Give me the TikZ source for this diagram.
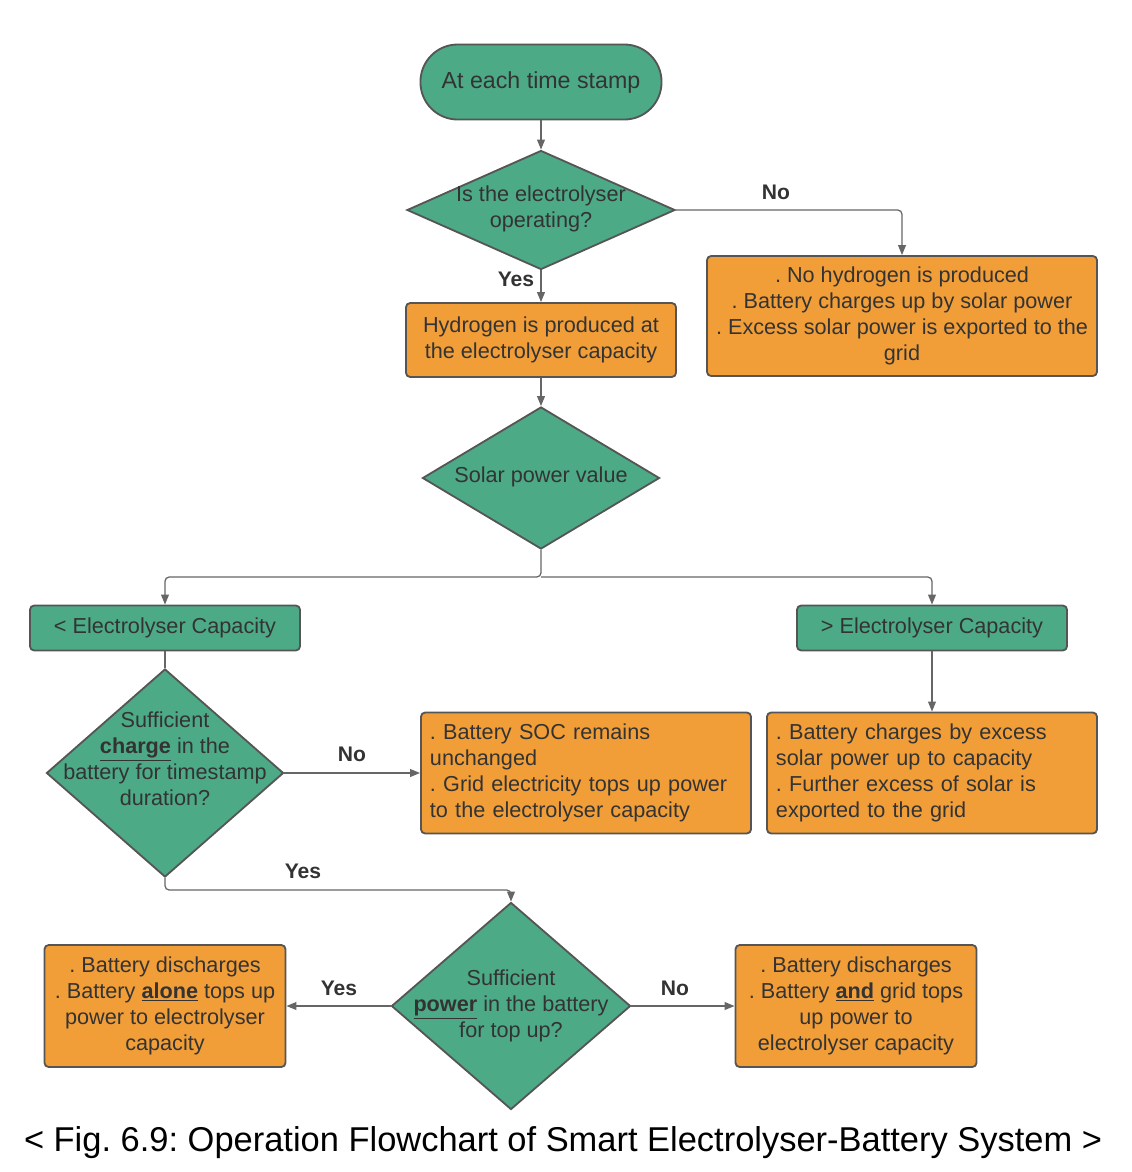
\documentclass[tikz,border=0pt]{standalone}
\usepackage{fontspec}
\setmainfont{Liberation Sans}
\usetikzlibrary{shapes.geometric,arrows.meta,calc}
\frenchspacing

\definecolor{flowgreen}{HTML}{4CAA87}
\definecolor{floworange}{HTML}{F19E38}
\definecolor{edgegray}{HTML}{555555}
\definecolor{linegray}{HTML}{666666}
\definecolor{inkgray}{HTML}{333333}

\begin{document}
\begin{tikzpicture}[x=0.025cm,y=-0.025cm,
        every node/.style={font=\fontsize{15.4}{18.6}\selectfont, text=inkgray},
        terminal/.style={draw=edgegray, line width=1.3pt, fill=flowgreen, rounded corners=0.93cm,
                minimum width=6.025cm, minimum height=1.875cm, font=\fontsize{16.5}{19.8}\selectfont},
        decision/.style={diamond, draw=edgegray, line width=1.3pt, fill=flowgreen, inner sep=0pt},
        greenbox/.style={rectangle, draw=edgegray, line width=1.3pt, fill=flowgreen, rounded corners=3pt,
                minimum width=6.75cm, minimum height=1.125cm},
        actbox/.style={rectangle, draw=edgegray, line width=1.3pt, fill=floworange, rounded corners=3pt,
                align=center, inner sep=2pt},
        link/.style={draw=linegray, line width=0.9pt, rounded corners=3pt},
        flow/.style={link, -{Triangle[length=7pt,width=5.5pt]}},
        answer/.style={font=\bfseries\fontsize{15}{18}\selectfont}
    ]
    \useasboundingbox (0,0) rectangle (1132,1172);

    % top part
    \node (start) at (541,82) [terminal] {At each time stamp};
    \node (q1) at (541,210) [decision, minimum width=6.7cm, minimum height=2.975cm] {};
    \node (q1text) at (541,209) [align=center] {Is the electrolyser\\operating?};
    \node (hyd) at (541,340) [actbox, minimum width=6.75cm, minimum height=1.85cm]
        {Hydrogen is produced at\\the electrolyser capacity};
    \node (nohyd) at (902,316) [actbox, minimum width=9.75cm, minimum height=3cm]
        {. No hydrogen is produced\\. Battery charges up by solar power\\. Excess solar power is exported to the\\grid};
    \node (q2) at (541,478) [decision, minimum width=5.925cm, minimum height=3.55cm] {};
    \node (q2text) at (541,477) {Solar power value};

    % middle part
    \coordinate (split) at (541,577);
    \node (less) at (165,628) [greenbox] {< Electrolyser Capacity};
    \node (more) at (932,628) [greenbox] {> Electrolyser Capacity};
    \node (q3) at (165,773) [decision, minimum width=5.925cm, minimum height=5.2cm] {};
    \node (q3text) at (165,759) [align=center]
        {Sufficient\\\underline{\textbf{charge}} in the\\battery for timestamp\\duration?};
    \node (soc) at (586,773) [actbox, align=left, text width=7.8cm, inner xsep=0.225cm, minimum height=3.025cm]
        {. Battery SOC remains\\unchanged\\. Grid electricity tops up power\\to the electrolyser capacity};
    \node (excess) at (932,773) [actbox, align=left, text width=7.8cm, inner xsep=0.225cm, minimum height=3.025cm]
        {. Battery charges by excess\\solar power up to capacity\\. Further excess of solar is\\exported to the grid};

    % bottom part
    \coordinate (yesturn) at (511,890);
    \node (q4) at (511,1006) [decision, minimum width=5.975cm, minimum height=5.175cm] {};
    \node (q4text) at (511,1006) [align=center]
        {Sufficient\\\underline{\textbf{power}} in the battery\\for top up?};
    \node (alone) at (165,1006) [actbox, minimum width=6.025cm, minimum height=3.05cm]
        {. Battery discharges\\. Battery \underline{\textbf{alone}} tops up\\power to electrolyser\\capacity};
    \node (andgrid) at (856,1006) [actbox, minimum width=6.025cm, minimum height=3.05cm]
        {. Battery discharges\\. Battery \underline{\textbf{and}} grid tops\\up power to\\electrolyser capacity};

    % connectors
    \draw [flow] (start) -- (q1);
    \draw [flow] (q1.east) -| (nohyd.north);
    \draw [flow] (q1.south) -- (hyd.north);
    \draw [flow] (hyd.south) -- (q2.north);
    \draw [flow] (q2.south) -- (split) -| (less.north);
    \draw [flow] (split) -| (more.north);
    \draw [link] (less.south) -- (q3.north);
    \draw [flow] (more.south) -- (excess.north);
    \draw [flow] (q3.east) -- (soc.west);
    \draw [flow] (q3.south) |- (yesturn) -- (q4.north);
    \draw [flow] (q4.west) -- (alone.east);
    \draw [flow] (q4.east) -- (andgrid.west);

    % answers
    \node (no1) at (776,192) [answer] {No};
    \node (yes1) at (516,279) [answer] {Yes};
    \node (no3) at (352,754) [answer] {No};
    \node (yes3) at (303,871) [answer] {Yes};
    \node (yes4) at (339,988) [answer] {Yes};
    \node (no4) at (675,988) [answer] {No};

    \node (caption) at (563,1143) [text=black, font=\fontsize{24.5}{29}\selectfont]
        {< Fig. 6.9: Operation Flowchart of Smart Electrolyser-Battery System >};
\end{tikzpicture}
\end{document}
